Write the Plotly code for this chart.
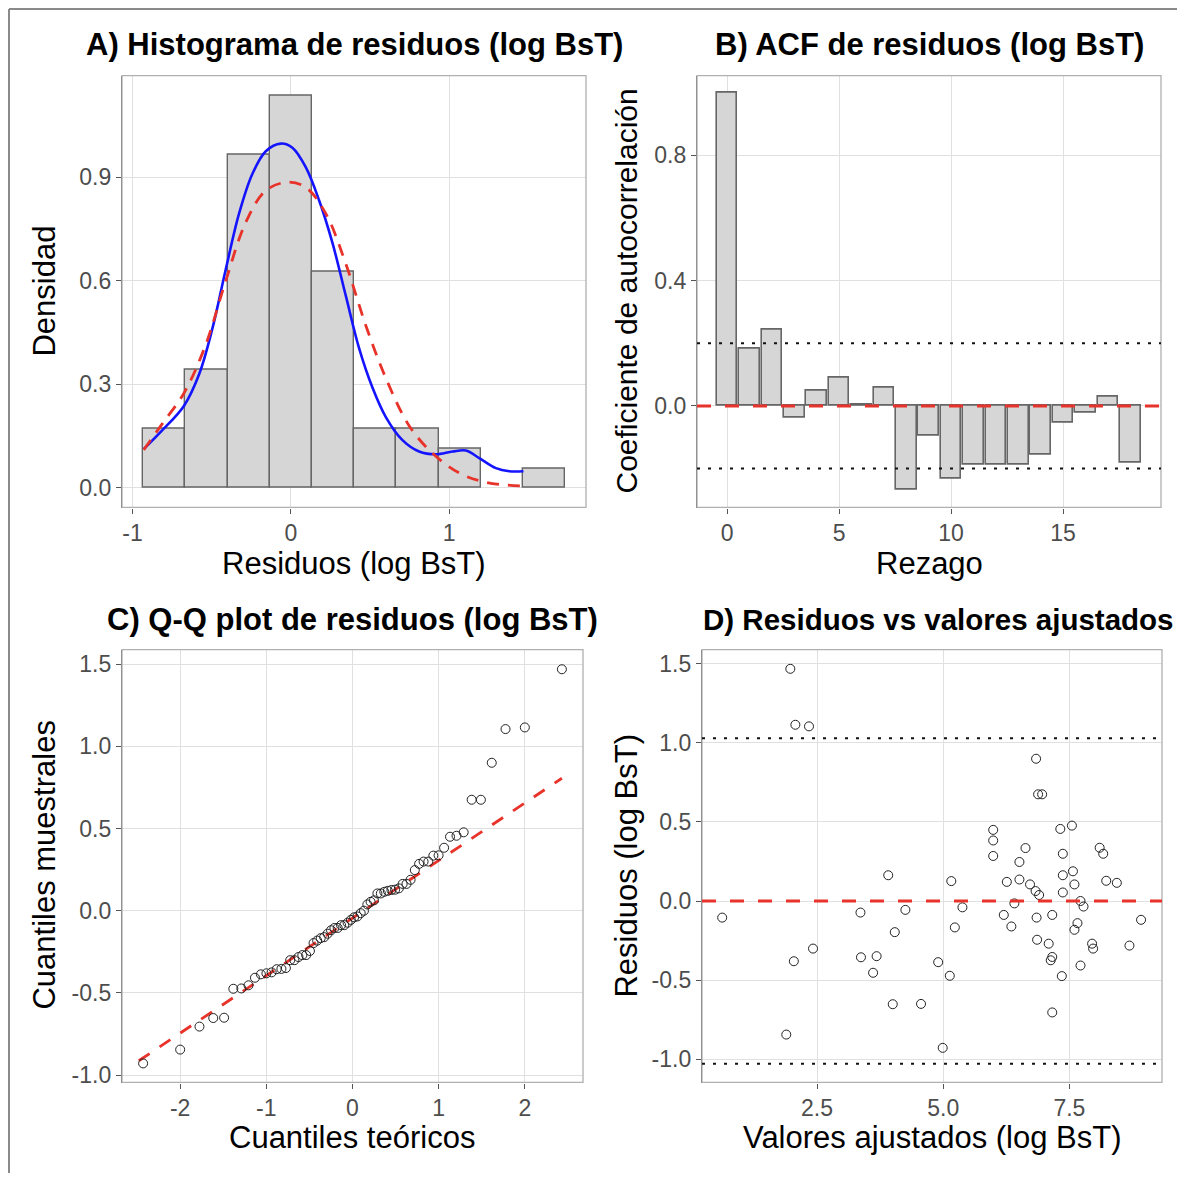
import plotly.graph_objects as go

# Residuals vs fitted values (log BsT)
fitted = [0.62, 1.97, 2.07, 2.34, 2.04, 2.42, 1.89, 3.36, 3.37, 3.68, 3.61, 3.91, 4.04, 4.00,
          4.25, 4.56, 4.90, 4.99, 5.13, 5.16, 5.23, 5.38, 5.99, 5.99, 5.99, 6.26, 6.20, 6.35,
          6.41, 6.51, 6.51, 6.63, 6.72, 6.84, 6.88, 6.96, 6.83, 6.90, 6.85, 6.86, 7.09, 7.16,
          7.16, 7.13, 7.16, 7.35, 7.32, 7.55, 7.37, 7.37, 7.57, 7.37, 7.60, 7.72, 7.78, 7.66,
          7.60, 7.72, 7.95, 7.97, 8.10, 8.17, 8.23, 8.44, 8.69, 8.92]
resid = [-0.105, 1.469, 1.115, 1.105, -0.381, -0.301, -0.845, -0.073, -0.356, -0.349, -0.454,
         0.163, -0.197, -0.653, -0.056, -0.651, -0.387, -0.929, -0.473, 0.126, -0.167, -0.040,
         0.450, 0.383, 0.285, 0.121, -0.088, -0.161, -0.015, 0.247, 0.136, 0.335, 0.105, 0.900,
         0.675, 0.675, 0.063, 0.038, -0.105, -0.245, -0.270, -0.088, -0.354, -0.375, -0.705,
         -0.475, 0.456, 0.477, 0.299, 0.163, 0.188, 0.054, 0.105, 0.000, -0.035, -0.140, -0.182,
         -0.408, -0.270, -0.301, 0.337, 0.299, 0.128, 0.115, -0.282, -0.119]

# density curves over the histogram
kde_x = [-0.929, -0.811, -0.674, -0.579, -0.495, -0.411, -0.327, -0.243, -0.158, -0.063, 0.01,
         0.095, 0.179, 0.263, 0.347, 0.431, 0.516, 0.60, 0.705, 0.81, 0.916, 1.021, 1.105, 1.19,
         1.295, 1.379, 1.469]
kde_y = [0.112, 0.167, 0.238, 0.329, 0.462, 0.633, 0.795, 0.910, 0.976, 0.998, 0.986, 0.929,
         0.833, 0.710, 0.557, 0.405, 0.290, 0.205, 0.138, 0.105, 0.097, 0.105, 0.108, 0.086,
         0.057, 0.048, 0.048]
norm_x = [-0.929, -0.811, -0.674, -0.537, -0.411, -0.284, -0.158, -0.02, 0.095, 0.221, 0.347,
          0.474, 0.60, 0.747, 0.895, 1.063, 1.23, 1.469]
norm_y = [0.110, 0.186, 0.275, 0.415, 0.600, 0.770, 0.862, 0.886, 0.871, 0.795, 0.650, 0.470,
          0.318, 0.180, 0.100, 0.043, 0.016, 0.005]

# ACF of residuals
lags = list(range(19))
acf = [1.0, 0.183, 0.243, -0.038, 0.048, 0.091, 0.005, 0.057, -0.268, -0.096, -0.233, -0.187,
       -0.187, -0.187, -0.157, -0.054, -0.020, 0.031, -0.181]
acf_ci = 0.2

# theoretical normal quantiles for n = 66
theo_neg = [-2.43, -2.00, -1.776, -1.616, -1.490, -1.383, -1.290, -1.207, -1.132, -1.063, -0.999,
            -0.938, -0.880, -0.825, -0.773, -0.723, -0.674, -0.627, -0.582, -0.538, -0.494,
            -0.452, -0.410, -0.369, -0.329, -0.289, -0.249, -0.210, -0.172, -0.133, -0.095,
            -0.057, -0.019]
theo_q = theo_neg + [-v for v in reversed(theo_neg)]
sample_q = sorted(resid)
qqline_x = [-2.48, 2.43]
qqline_y = [-0.913, 0.806]

resid_band = 1.03

# tick values / labels
a_xt, a_xl = [-1, 0, 1], ["-1", "0", "1"]
a_yt, a_yl = [0, 0.3, 0.6, 0.9], ["0.0", "0.3", "0.6", "0.9"]
b_xt, b_xl = [0, 5, 10, 15], ["0", "5", "10", "15"]
b_yt, b_yl = [0, 0.4, 0.8], ["0.0", "0.4", "0.8"]
c_xt, c_xl = [-2, -1, 0, 1, 2], ["-2", "-1", "0", "1", "2"]
r_yt, r_yl = [-1, -0.5, 0, 0.5, 1, 1.5], ["-1.0", "-0.5", "0.0", "0.5", "1.0", "1.5"]
d_xt, d_xl = [2.5, 5, 7.5], ["2.5", "5.0", "7.5"]

# page body has an 8px margin; figure is sized so it still fits the window
OFF = 8
W, H = 1177, 1171
FONT = "Liberation Sans, Arial, sans-serif"
FILL = "#d6d6d6"
EDGE = "#666666"
GRID = "#e0e0e0"
AXIS = "#555555"
BORDER = "#b0b0b0"
RED = "#e8332a"

fig = go.Figure()

# A) histogram + curves
fig.add_trace(go.Histogram(
    x=resid, histnorm="probability density",
    xbins=dict(start=-0.932, end=1.80, size=0.2664),
    marker=dict(color=FILL, line=dict(color=EDGE, width=1.4)),
    xaxis="x", yaxis="y"))
fig.add_trace(go.Scatter(x=kde_x, y=kde_y, mode="lines", line=dict(color="#1414ff", width=2.6, shape="spline"),
                         xaxis="x", yaxis="y"))
fig.add_trace(go.Scatter(x=norm_x, y=norm_y, mode="lines",
                         line=dict(color=RED, width=2.8, dash="12px,9px", shape="spline"),
                         xaxis="x", yaxis="y"))

# B) ACF bars
fig.add_trace(go.Bar(x=lags, y=acf, width=0.92,
                     marker=dict(color=FILL, line=dict(color=EDGE, width=1.6)),
                     xaxis="x2", yaxis="y2"))

# C) Q-Q plot
fig.add_trace(go.Scatter(x=qqline_x, y=qqline_y, mode="lines",
                         line=dict(color=RED, width=2.8, dash="13px,12px"),
                         xaxis="x3", yaxis="y3"))
fig.add_trace(go.Scatter(x=theo_q, y=sample_q, mode="markers",
                         marker=dict(symbol="circle-open", size=9, color="#222222", line=dict(width=1)),
                         xaxis="x3", yaxis="y3"))

# D) residuals vs fitted
fig.add_trace(go.Scatter(x=fitted, y=resid, mode="markers",
                         marker=dict(symbol="circle-open", size=9, color="#222222", line=dict(width=1)),
                         xaxis="x4", yaxis="y4"))


def px_x(p):
    return (p - OFF) / W


def px_y(p):
    return 1 - (p - OFF) / H


panels = {
    "": ([122, 586], [76, 510]),
    "2": ([697, 1161], [76, 510]),
    "3": ([122, 583], [653, 1088]),
    "4": ([702, 1162], [653, 1088]),
}

ranges = {
    "": dict(x=[-1.066, 1.864], y=[-0.057, 1.195], xt=a_xt, xl=a_xl, yt=a_yt, yl=a_yl),
    "2": dict(x=[-1.34, 19.37], y=[-0.324, 1.054], xt=b_xt, xl=b_xl, yt=b_yt, yl=b_yl),
    "3": dict(x=[-2.675, 2.675], y=[-1.045, 1.588], xt=c_xt, xl=c_xl, yt=r_yt, yl=r_yl),
    "4": dict(x=[0.22, 9.335], y=[-1.148, 1.59], xt=d_xt, xl=d_xl, yt=r_yt, yl=r_yl),
}

layout = {}
shapes = []
for k, (xs, ys) in panels.items():
    r = ranges[k]
    common = dict(showgrid=True, gridcolor=GRID, gridwidth=1.2, zeroline=False,
                  showline=True, linecolor=AXIS, linewidth=1.3,
                  ticks="outside", ticklen=5, tickcolor=AXIS, tickwidth=1.3,
                  tickfont=dict(family=FONT, size=23, color="#4d4d4d"))
    layout["xaxis" + k] = dict(common, domain=[px_x(xs[0]), px_x(xs[1])], range=r["x"],
                               tickmode="array", tickvals=r["xt"], ticktext=r["xl"],
                               anchor="y" + k)
    layout["yaxis" + k] = dict(common, domain=[px_y(ys[1]), px_y(ys[0])], range=r["y"],
                               tickmode="array", tickvals=r["yt"], ticktext=r["yl"],
                               anchor="x" + k)
    ref = "x" + k if k else "x"
    yref = "y" + k if k else "y"
    shapes.append(dict(type="rect", xref=ref + " domain", yref=yref + " domain",
                       x0=0, x1=1, y0=0, y1=1, line=dict(color=BORDER, width=1.3), layer="above"))

# reference lines
shapes += [
    dict(type="line", xref="x2 domain", yref="y2", x0=0, x1=1, y0=acf_ci, y1=acf_ci,
         line=dict(color="#111111", width=2, dash="3px,8px")),
    dict(type="line", xref="x2 domain", yref="y2", x0=0, x1=1, y0=-acf_ci, y1=-acf_ci,
         line=dict(color="#111111", width=2, dash="3px,8px")),
    dict(type="line", xref="x2 domain", yref="y2", x0=0, x1=1, y0=0, y1=0,
         line=dict(color=RED, width=3, dash="14px,14px")),
    dict(type="line", xref="x4 domain", yref="y4", x0=0, x1=1, y0=resid_band, y1=resid_band,
         line=dict(color="#111111", width=2, dash="3px,8px")),
    dict(type="line", xref="x4 domain", yref="y4", x0=0, x1=1, y0=-resid_band, y1=-resid_band,
         line=dict(color="#111111", width=2, dash="3px,8px")),
    dict(type="line", xref="x4 domain", yref="y4", x0=0, x1=1, y0=0, y1=0,
         line=dict(color=RED, width=3, dash="14px,14px")),
    # outer frame (left + top edges)
    dict(type="line", xref="paper", yref="paper", x0=1 / W, x1=1 / W, y0=0, y1=1 - 1 / H,
         line=dict(color="#8a8a8a", width=2)),
    dict(type="line", xref="paper", yref="paper", x0=1 / W, x1=1, y0=1 - 1 / H, y1=1 - 1 / H,
         line=dict(color="#8a8a8a", width=2)),
]


def label(text, x, y, size, angle=0, bold=False):
    return dict(text="<b>" + text + "</b>" if bold else text, x=px_x(x), y=px_y(y),
                xref="paper", yref="paper", showarrow=False, textangle=angle,
                xanchor="center", yanchor="middle",
                font=dict(family=FONT, size=size, color="black"))


annotations = [
    label("A) Histograma de residuos (log BsT)", 354, 45, 31, bold=True),
    label("B) ACF de residuos (log BsT)", 929, 45, 31, bold=True),
    label("C) Q-Q plot de residuos (log BsT)", 352, 623, 31, bold=True),
    label("D) Residuos vs valores ajustados", 938, 623, 29.5, bold=True),
    label("Residuos (log BsT)", 354, 566, 31),
    label("Rezago", 929, 566, 31),
    label("Cuantiles teóricos", 352, 1143, 31),
    label("Valores ajustados (log BsT)", 932, 1143, 31),
    label("Densidad", 45, 293, 31, angle=-90),
    label("Coeficiente de autocorrelación", 627, 293, 30, angle=-90),
    label("Cuantiles muestrales", 45, 870, 31, angle=-90),
    label("Residuos (log BsT)", 627, 870, 31, angle=-90),
]

fig.update_layout(
    width=W, height=H,
    margin=dict(l=0, r=0, t=0, b=0),
    paper_bgcolor="white", plot_bgcolor="white",
    showlegend=False, bargap=0,
    font=dict(family=FONT),
    shapes=shapes, annotations=annotations,
    **layout,
)

fig.write_html("out.html")
